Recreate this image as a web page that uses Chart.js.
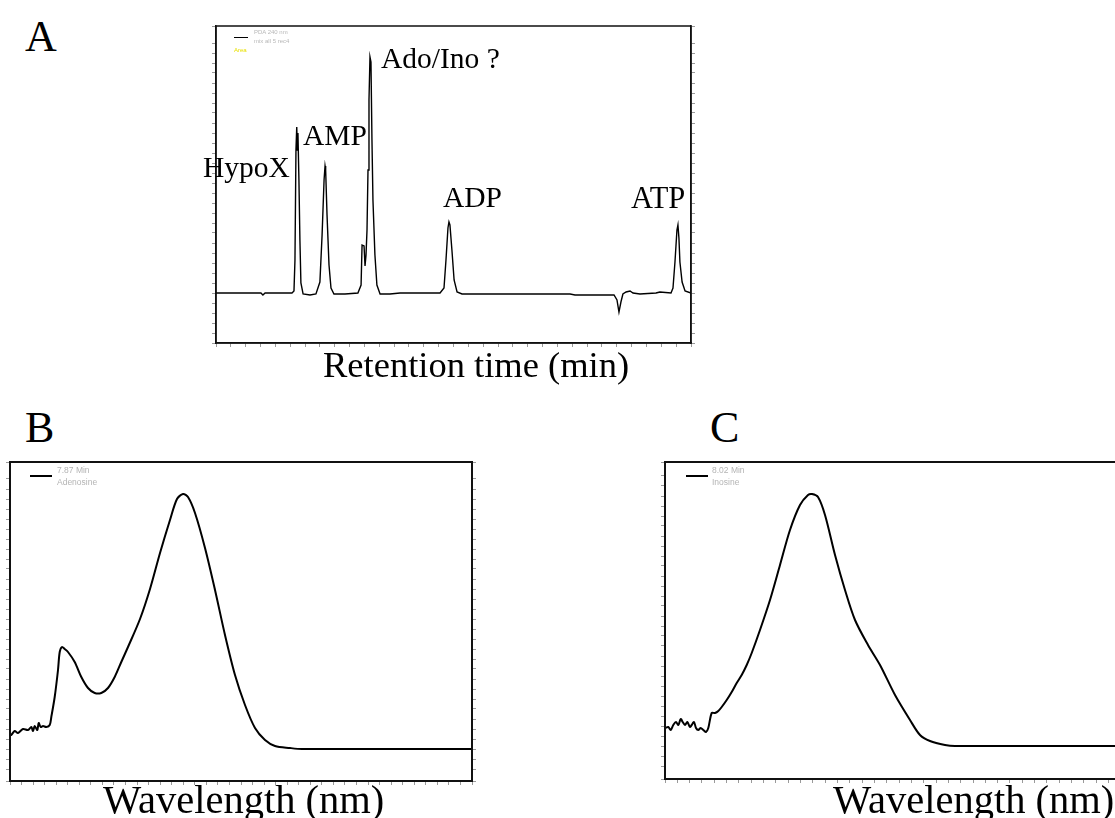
<!DOCTYPE html>
<html>
<head>
<meta charset="utf-8">
<script src="https://cdn.jsdelivr.net/npm/chart.js@4.4.1/dist/chart.umd.min.js"></script>
<style>
  html, body { margin: 0; padding: 0; background: #fff; overflow: hidden; }
  body { width: 1115px; height: 818px; position: relative; }
  canvas { position: absolute; }
  .t { position: absolute; white-space: nowrap; font-family: "Liberation Serif", "Times New Roman", serif; color: #000; }
  .lg { position: absolute; white-space: nowrap; font-family: "Liberation Sans", Arial, sans-serif; color: #b4b4b4; line-height: 1; }
  .lgline { position: absolute; background: #000; }
</style>
</head>
<body>
<canvas id="chartA" width="487" height="325" style="left:210px;top:24px"></canvas>
<canvas id="chartB" width="474" height="327" style="left:4px;top:460px"></canvas>
<canvas id="chartC" width="628" height="325" style="left:659px;top:460px"></canvas>

<div id="labels"></div>

<script>
// Panel A: chromatogram (retention time in min, signal in mAU)
const aTime = [0.00, 2.12, 2.27, 2.37, 2.48, 3.84, 3.94, 3.99, 4.04, 4.08, 4.11, 4.14, 4.19, 4.24, 4.29, 4.40,
  4.75, 5.05, 5.25, 5.36, 5.46, 5.51, 5.54, 5.61, 5.71, 5.81, 5.96, 6.52, 7.17, 7.33, 7.38, 7.48, 7.53, 7.58,
  7.63, 7.68, 7.73, 7.78, 7.83, 7.88, 7.93, 8.03, 8.13, 8.29, 8.79, 9.30, 11.32, 11.52, 11.62, 11.72, 11.77,
  11.82, 11.92, 12.03, 12.18, 12.43, 17.89, 18.14, 20.11, 20.26, 20.36, 20.46, 20.56, 20.72, 20.92, 21.07,
  21.42, 22.23, 22.43, 22.99, 23.09, 23.19, 23.29, 23.34, 23.39, 23.44, 23.55, 23.70, 24.00];
const aSignal = [0, 0, 0, -2, 0, 0, 2, 33, 143, 166, 143, 160, 113, 53, 10, -1,
  -2, -1, 11, 58, 113, 127, 123, 78, 28, 5, -1, -1, 0, 8, 48, 47, 27, 38,
  63, 123, 193, 236, 231, 153, 93, 38, 8, -1, -1, 0, 0, 5, 33, 65, 71,
  68, 43, 13, 1, -1, -1, -2, -2, -7, -19, -9, -1, 1, 2, 0,
  -1, 0, 1, 0, 5, 31, 63, 68, 55, 31, 11, 2, 0];
const peakNames = ["HypoX", "AMP", "Ado/Ino ?", "ADP", "ATP"];

// Panel B: UV spectrum of the 7.87 min peak
const bWave = [200.0, 200.56, 202.03, 203.46, 205.63, 207.79, 209.22, 209.96, 210.69, 211.82, 212.42, 213.29,
  214.29, 215.71, 217.19, 217.88, 219.35, 220.78, 221.52, 222.51, 223.68, 225.11, 228.01, 230.87, 233.77,
  236.67, 239.52, 242.42, 245.32, 248.18, 251.08, 256.28, 260.61, 264.94, 269.26, 272.29, 274.89, 277.06,
  280.09, 284.42, 288.75, 293.07, 297.40, 301.73, 306.06, 310.39, 314.72, 321.21, 326.41, 400.0];
const bAbs = [14, 14, 18, 16, 20, 19, 22, 18, 23, 19, 26, 22,
  23, 22, 24, 32, 52, 79, 97, 102, 100, 97, 87, 72, 61,
  56, 56, 61, 72, 87, 102, 130, 160, 196, 229, 250, 255, 252,
  236, 201, 159, 114, 74, 44, 21, 9, 3, 1, 0, 0];

// Panel C: UV spectrum of the 8.02 min peak
const cWave = [200.0, 201.07, 201.85, 202.69, 203.57, 204.32, 205.10, 205.75, 206.49, 207.24, 208.12, 208.67,
  209.42, 210.06, 210.81, 211.59, 212.44, 213.31, 214.06, 215.16, 216.23, 217.31, 218.41, 220.03, 221.66,
  223.28, 224.90, 226.53, 228.15, 230.84, 234.09, 237.34, 240.58, 243.83, 246.43, 247.73, 249.68, 251.95,
  255.20, 258.44, 261.69, 265.91, 269.81, 274.68, 279.55, 282.79, 286.04, 290.91, 294.16, 400.0];
const cAbs = [18, 19, 16, 21, 24, 21, 27, 24, 21, 24, 19, 21,
  24, 18, 16, 18, 16, 14, 18, 33, 33, 35, 39, 46, 54,
  63, 71, 81, 93, 116, 146, 181, 216, 241, 251, 252, 249, 231,
  191, 156, 126, 101, 81, 51, 26, 11, 5, 1, 0, 0];

function toPoints(xs, ys) {
  return xs.map((x, i) => ({ x: x, y: ys[i] }));
}

const boxBorder = {
  id: "boxBorder",
  afterDraw(chart, args, opts) {
    const { ctx, chartArea: a } = chart;
    ctx.save();
    ctx.strokeStyle = opts.color;
    ctx.lineWidth = opts.width;
    ctx.strokeRect(a.left, a.top, a.right - a.left, a.bottom - a.top);
    ctx.restore();
  }
};

function tickAxis(pos, min, max, step, lw) {
  const vertical = pos === "left" || pos === "right";
  return {
    type: "linear",
    position: pos,
    min: min,
    max: max,
    grid: { drawOnChartArea: false, drawTicks: true, tickLength: 4, tickColor: "#9a9a9a", tickWidth: 1 },
    border: { display: true, color: "#111", width: lw },
    ticks: { display: false, stepSize: step, autoSkip: false, maxTicksLimit: 200 },
    afterFit(scale) {
      if (vertical) scale.width = 6; else scale.height = 6;
    }
  };
}

function makeChart(id, xs, ys, xr, yr, lw, tension, borderW) {
  return new Chart(document.getElementById(id).getContext("2d"), {
    type: "line",
    data: {
      datasets: [{
        data: toPoints(xs, ys),
        borderColor: "#000",
        borderWidth: lw,
        pointRadius: 0,
        fill: false,
        tension: tension
      }]
    },
    options: {
      responsive: false,
      animation: false,
      devicePixelRatio: 1,
      layout: { padding: { top: 2, left: 0, right: 0, bottom: 0 } },
      plugins: {
        legend: { display: false },
        tooltip: { enabled: false },
        boxBorder: { color: "#111", width: borderW }
      },
      scales: {
        x: tickAxis("bottom", xr[0], xr[1], xr[2], borderW),
        y: tickAxis("left", yr[0], yr[1], yr[2], borderW),
        y2: tickAxis("right", yr[0], yr[1], yr[2], borderW)
      }
    },
    plugins: [boxBorder]
  });
}

makeChart("chartA", aTime, aSignal, [0, 24, 0.75], [-50, 267, 10], 1.4, 0, 1.5);
makeChart("chartB", bWave, bAbs, [200, 400, 5], [-32, 287, 10], 2, 0.3, 2);
makeChart("chartC", cWave, cAbs, [200, 400, 4], [-33, 284, 10], 2, 0.3, 2);

// text overlays: [text, left, baseline, font size]
const texts = [
  ["A", 25, 52, 44],
  ["B", 25, 443, 44],
  ["C", 710, 443, 44],
  [peakNames[0], 203, 178, 29.5],
  [peakNames[1], 303, 146, 29.5],
  [peakNames[2], 381, 69, 29.5],
  [peakNames[3], 443, 208, 29.5],
  [peakNames[4], 631, 209, 30.5],
  ["Retention time (min)", 323, 378, 36.5],
  ["Wavelength (nm)", 103, 814, 40.5],
  ["Wavelength (nm)", 833, 814, 40.5]
];
const holder = document.getElementById("labels");
texts.forEach(([s, x, base, f]) => {
  const d = document.createElement("div");
  d.className = "t";
  d.textContent = s;
  d.style.left = x + "px";
  d.style.top = (base - 0.8375 * f) + "px";
  d.style.fontSize = f + "px";
  d.style.lineHeight = f + "px";
  holder.appendChild(d);
});

// legend overlays
const legends = [
  { line: [234, 37, 14, 1], rows: [["PDA 240 nm", 254, 29, 6, "#b8b8b8"], ["mix all 5 rec4", 254, 38, 6, "#b8b8b8"], ["Area", 234, 47, 6, "#e8e000"]] },
  { line: [30, 475, 22, 2], rows: [["7.87 Min", 57, 466, 8.5, "#b4b4b4"], ["Adenosine", 57, 478, 8.5, "#b4b4b4"]] },
  { line: [686, 475, 22, 2], rows: [["8.02 Min", 712, 466, 8.5, "#b4b4b4"], ["Inosine", 712, 478, 8.5, "#b4b4b4"]] }
];
legends.forEach(lg => {
  const l = document.createElement("div");
  l.className = "lgline";
  l.style.left = lg.line[0] + "px";
  l.style.top = lg.line[1] + "px";
  l.style.width = lg.line[2] + "px";
  l.style.height = lg.line[3] + "px";
  holder.appendChild(l);
  lg.rows.forEach(([s, x, y, f, c]) => {
    const d = document.createElement("div");
    d.className = "lg";
    d.textContent = s;
    d.style.left = x + "px";
    d.style.top = y + "px";
    d.style.fontSize = f + "px";
    d.style.color = c;
    holder.appendChild(d);
  });
});
</script>
</body>
</html>
